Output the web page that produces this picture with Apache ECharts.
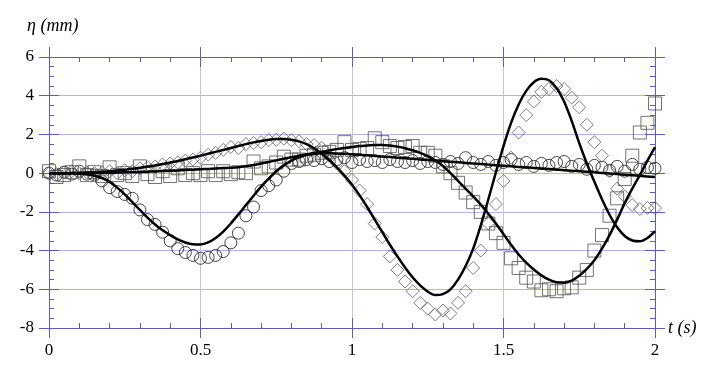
<!DOCTYPE html>
<html>
<head>
<meta charset="utf-8">
<script src="https://cdn.jsdelivr.net/npm/echarts@6/dist/echarts.min.js"></script>
<style>
  html, body { margin: 0; padding: 0; background: #fff; }
  #grafico { width: 720px; height: 378px; }
</style>
</head>
<body>
<div id="grafico"></div>
<script>
// --- dados ---
var passoMedida = 0.025;   // t dos marcadores: 0 .. 2
var passoCurva = 0.025;    // t das curvas: 0 .. 2

var circulos = [
  0.0, -0.1, 0.05, -0.05, 0.1, -0.05, -0.1, -0.4, -0.75, -0.95,
  -1.1, -1.3, -1.9, -2.4, -2.65, -3.05, -3.5, -3.9, -4.1, -4.25,
  -4.4, -4.35, -4.25, -4.05, -3.6, -3.1, -2.2, -1.75, -0.9, -0.65,
  -0.35, 0.1, 0.5, 0.6, 0.7, 0.65, 0.75, 0.6, 0.7, 0.8,
  0.55, 0.7, 0.6, 0.65, 0.55, 0.7, 0.6, 0.55, 0.65, 0.5,
  0.6, 0.55, 0.45, 0.6, 0.5, 0.8, 0.55, 0.45, 0.6, 0.4,
  0.55, 0.7, 0.45, 0.55, 0.35, 0.5, 0.4, 0.55, 0.6, 0.35,
  0.45, 0.2, 0.4, 0.3, 0.15, 0.35, 0.1, 0.45, 0.2, 0.3,
  0.25
];

var losangos = [
  0.0, -0.05, 0.05, 0.1, 0.0, 0.05, 0.0, 0.05, 0.1, 0.0,
  0.15, 0.1, 0.25, 0.3, 0.35, 0.45, 0.5, 0.55, 0.65, 0.7,
  0.8, 0.95, 1.05, 1.2, 1.35, 1.3, 1.5, 1.55, 1.6, 1.7,
  1.72, 1.78, 1.7, 1.65, 1.5, 1.45, 1.3, 0.9, 0.5, 0.1,
  -0.35, -0.9, -1.6, -2.6, -3.3, -4.3, -5.0, -5.6, -6.1, -6.7,
  -7.0, -7.3, -7.1, -7.25, -6.7, -6.1, -4.9, -4.0, -2.6, -1.6,
  -0.4, 0.8, 2.1, 3.0, 3.7, 4.2, 4.35, 4.5, 4.35, 3.9,
  3.4, 2.5, 1.6, 0.9, 0.1, -0.8, -1.2, -1.65, -1.85, -1.8,
  -1.8
];

var quadrados = [
  0.1, -0.2, -0.1, 0.05, 0.35, -0.1, 0.05, -0.15, 0.3, -0.1,
  0.0, -0.15, 0.35, -0.05, -0.2, 0.1, -0.15, 0.25, -0.1, 0.0,
  -0.1, 0.1, -0.1, 0.1, -0.05, 0.05, 0.0, 0.6, 0.25, 0.35,
  0.55, 0.85, 0.7, 0.7, 0.9, 0.95, 1.05, 1.1, 1.2, 1.6,
  1.2, 1.25, 1.3, 1.8, 1.6, 1.4, 1.3, 1.35, 1.4, 1.05,
  1.05, 0.9, 0.35, 0.0, -0.5, -1.0, -1.5, -2.0, -2.6, -3.1,
  -3.6, -4.4, -4.9, -5.4, -5.6, -6.05, -6.0, -6.1, -5.95, -5.9,
  -5.4, -5.0, -4.0, -3.2, -2.2, -1.3, -0.3, 0.9, 2.1, 2.6,
  3.6
];

var curvaCirculos = [
  0.0, 0.0, 0.0, -0.01, -0.03, -0.07, -0.13, -0.25, -0.45, -0.75,
  -1.1, -1.5, -1.9, -2.3, -2.65, -2.95, -3.2, -3.42, -3.58, -3.67,
  -3.68, -3.58, -3.35, -3.02, -2.6, -2.13, -1.65, -1.17, -0.7, -0.28,
  0.1, 0.4, 0.65, 0.82, 0.93, 1.0, 1.03, 1.03, 1.02, 1.0,
  0.97, 0.95, 0.92, 0.89, 0.86, 0.83, 0.8, 0.77, 0.74, 0.71,
  0.68, 0.65, 0.62, 0.59, 0.56, 0.53, 0.5, 0.47, 0.44, 0.41,
  0.38, 0.35, 0.32, 0.3, 0.27, 0.24, 0.21, 0.18, 0.15, 0.13,
  0.1, 0.07, 0.04, 0.01, -0.02, -0.05, -0.08, -0.11, -0.14, -0.17,
  -0.2
];

var curvaLosangos = [
  0.0, 0.0, 0.0, 0.01, 0.02, 0.03, 0.05, 0.07, 0.1, 0.14,
  0.18, 0.23, 0.28, 0.34, 0.4, 0.47, 0.55, 0.63, 0.72, 0.81,
  0.9, 1.0, 1.1, 1.2, 1.3, 1.4, 1.5, 1.59, 1.66, 1.72,
  1.76, 1.77, 1.73, 1.64, 1.5, 1.28, 1.0, 0.68, 0.3, -0.13,
  -0.6, -1.15, -1.75, -2.4, -3.05, -3.7, -4.3, -4.87, -5.38, -5.8,
  -6.12, -6.3, -6.25, -6.0, -5.5, -4.8, -3.9, -2.7, -1.35, 0.05,
  1.4, 2.6, 3.55, 4.25, 4.7, 4.88, 4.8, 4.4, 3.7, 2.7,
  1.55, 0.5, -0.45, -1.35, -2.15, -2.8, -3.25, -3.48, -3.52, -3.35,
  -3.0
];

var curvaQuadrados = [
  0.0, 0.0, 0.0, 0.0, 0.0, 0.005, 0.01, 0.015, 0.02, 0.03,
  0.04, 0.05, 0.06, 0.075, 0.09, 0.105, 0.12, 0.14, 0.16, 0.18,
  0.2, 0.22, 0.24, 0.26, 0.28, 0.31, 0.36, 0.42, 0.5, 0.58,
  0.66, 0.74, 0.82, 0.9, 0.97, 1.04, 1.1, 1.17, 1.24, 1.3,
  1.35, 1.4, 1.43, 1.46, 1.46, 1.43, 1.37, 1.29, 1.18, 1.05,
  0.88, 0.65, 0.37, 0.0, -0.4, -0.8, -1.2, -1.63, -2.1, -2.6,
  -3.15, -3.7, -4.2, -4.62, -4.98, -5.28, -5.5, -5.64, -5.66, -5.55,
  -5.3, -4.95, -4.5, -3.9, -3.2, -2.4, -1.55, -0.8, -0.1, 0.65,
  1.35
];

var ticksX = [0, 0.5, 1, 1.5, 2];
var ticksY = [-8, -6, -4, -2, 0, 2, 4, 6];

// --- monta os pares [t, y] ---
function pares(valores, passo) {
    return valores.map(function (v, i) {
        return [+(i * passo).toFixed(3), v];
    });
}

var corEixo = '#5c5cc0';
var fonteSerif = '"Liberation Serif", "DejaVu Serif", serif';

function eixoX(posicao, dentro, comRotulo) {
    return {
        type: 'value', position: posicao,
        min: ticksX[0], max: ticksX[ticksX.length - 1], interval: 0.5,
        axisLine: { show: true, onZero: false, lineStyle: { color: corEixo, width: 1 } },
        axisTick: { show: true, inside: dentro, length: 10, lineStyle: { color: corEixo } },
        minorTick: { show: dentro, splitNumber: 5, length: 5, lineStyle: { color: corEixo } },
        axisLabel: comRotulo ? {
            show: true, color: '#000', fontFamily: fonteSerif, fontSize: 17, margin: 14,
            showMinLabel: true, showMaxLabel: true
        } : { show: false },
        splitLine: { show: comRotulo, lineStyle: { color: '#c4c4d6', width: 1 } },
        minorSplitLine: { show: false }
    };
}

function eixoY(posicao, dentro, comRotulo) {
    return {
        type: 'value', position: posicao,
        min: ticksY[0], max: ticksY[ticksY.length - 1], interval: 2,
        axisLine: { show: true, onZero: false, lineStyle: { color: corEixo, width: 1 } },
        axisTick: { show: true, inside: dentro, length: 10, lineStyle: { color: corEixo } },
        minorTick: { show: dentro, splitNumber: 4, length: 5, lineStyle: { color: corEixo } },
        axisLabel: comRotulo ? {
            show: true, color: '#000', fontFamily: fonteSerif, fontSize: 17, margin: 15,
            showMinLabel: true, showMaxLabel: true
        } : { show: false },
        splitLine: { show: comRotulo, lineStyle: { color: '#b4b4dc', width: 1 } },
        minorSplitLine: { show: false }
    };
}

var eixosX = [eixoX('bottom', false, true), eixoX('bottom', true, false), eixoX('top', false, false), eixoX('top', true, false)];
var eixosY = [eixoY('left', false, true), eixoY('left', true, false), eixoY('right', false, false), eixoY('right', true, false)];

eixosX[0].name = 't (s)';
eixosX[0].nameLocation = 'end';
eixosX[0].nameGap = 13;
eixosX[0].nameTextStyle = { fontFamily: fonteSerif, fontStyle: 'italic', fontSize: 18, color: '#000', verticalAlign: 'middle' };

eixosY[0].name = 'η (mm)';
eixosY[0].nameLocation = 'end';
eixosY[0].nameGap = 22;
eixosY[0].nameTextStyle = { fontFamily: fonteSerif, fontStyle: 'italic', fontSize: 18, color: '#000', align: 'left', padding: [0, 0, 0, -22] };

function marcadores(nome, simbolo, tamanho, cor, valores) {
    return {
        name: nome, type: 'scatter', symbol: simbolo, symbolSize: tamanho,
        itemStyle: { color: 'rgba(0,0,0,0)', borderColor: cor, borderWidth: 1 },
        data: pares(valores, passoMedida), z: 2, silent: true
    };
}

function curva(nome, valores) {
    return {
        name: nome, type: 'line', smooth: 0.3, showSymbol: false, symbol: 'none',
        lineStyle: { color: '#000', width: 2.5 },
        data: pares(valores, passoCurva), z: 3, silent: true
    };
}

var grafico = echarts.init(document.getElementById('grafico'), null, { renderer: 'canvas' });

var option = {
    backgroundColor: '#fff',
    animation: false,
    grid: { left: 49, right: 65, top: 57, bottom: 50, containLabel: false },
    xAxis: eixosX,
    yAxis: eixosY,
    series: [
        marcadores('circulos', 'circle', 12, '#1a1a1a', circulos),
        marcadores('losangos', 'diamond', 13, '#5e5e5e', losangos),
        marcadores('quadrados', 'rect', 13, '#505050', quadrados),
        curva('ajuste circulos', curvaCirculos),
        curva('ajuste losangos', curvaLosangos),
        curva('ajuste quadrados', curvaQuadrados)
    ]
};
grafico.setOption(option);
</script>
</body>
</html>
